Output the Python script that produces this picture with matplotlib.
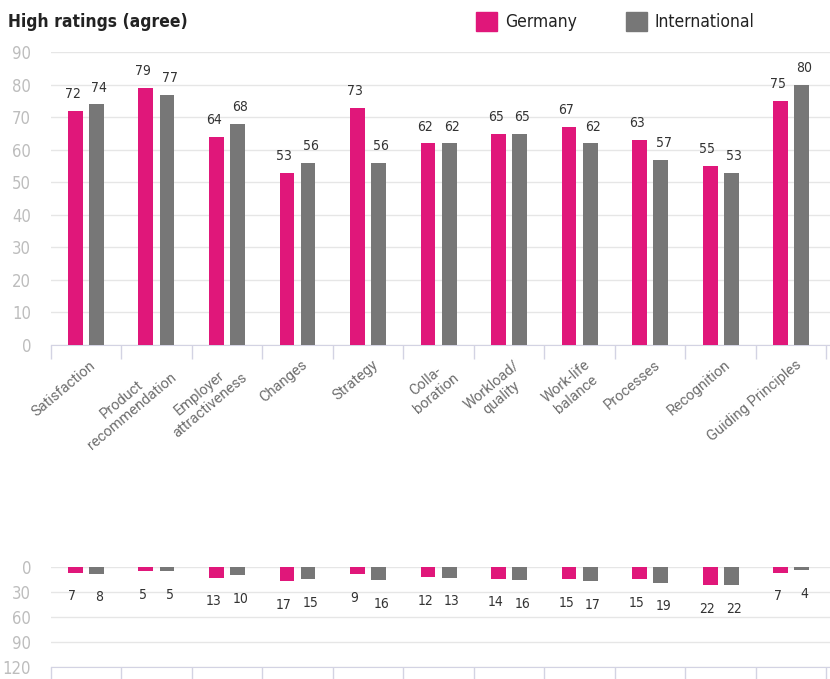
import matplotlib.pyplot as plt
import numpy as np

categories = ['Satisfaction', 'Product\nrecommendation', 'Employer\nattractiveness', 'Changes',
              'Strategy', 'Colla-\nboration', 'Workload/\nquality', 'Work-life\nbalance',
              'Processes', 'Recognition', 'Guiding Principles']
high_germany = [72, 79, 64, 53, 73, 62, 65, 67, 63, 55, 75]
high_intl = [74, 77, 68, 56, 56, 62, 65, 62, 57, 53, 80]
low_germany = [7, 5, 13, 17, 9, 12, 14, 15, 15, 22, 7]
low_intl = [8, 5, 10, 15, 16, 13, 16, 17, 19, 22, 4]

pink = '#E0177A'
gray = '#777777'
tick_gray = '#BDBDBD'
grid_gray = '#E6E6E6'
axis_col = '#D3D3E3'
num_font = ['DejaVu Sans']
num_kw = dict(family=num_font, stretch='condensed')

fig = plt.figure(figsize=(8.3, 6.79), dpi=100)
x = np.arange(len(categories))
w = 0.21
off = 0.15

# upper chart
ax = fig.add_axes([0.061, 0.492, 0.939, 0.431])
ax.bar(x - off, high_germany, w, color=pink, zorder=3)
ax.bar(x + off, high_intl, w, color=gray, zorder=3)
for i in range(len(x)):
    ax.text(x[i] - off - 0.04, high_germany[i] + 3, str(high_germany[i]), ha='center', va='bottom',
            fontsize=10, color='#333333', **num_kw)
    ax.text(x[i] + off + 0.04, high_intl[i] + 3, str(high_intl[i]), ha='center', va='bottom',
            fontsize=10, color='#333333', **num_kw)
ax.set_xlim(-0.5, len(x) - 0.45)
ax.set_ylim(0, 90)
ax.set_yticks(range(0, 91, 10))
ax.yaxis.grid(True, color=grid_gray, lw=1, zorder=0)
ax.set_xticks(np.arange(len(x) + 1) - 0.5)
ax.set_xticklabels([])
ax.tick_params(axis='x', length=10, color=axis_col, width=1)
ax.tick_params(axis='y', length=0, labelcolor=tick_gray, labelsize=12, pad=14)
for lab in ax.get_yticklabels():
    lab.set_family(num_font)
    lab.set_stretch('condensed')
for s in ['top', 'right', 'left']:
    ax.spines[s].set_visible(False)
ax.spines['bottom'].set_color(axis_col)
for i, c in enumerate(categories):
    ax.text(x[i] + 0.05, -4, c, rotation=40, ha='right', va='top', rotation_mode='anchor',
            fontsize=10.5, color='#6E6E6E', family=['Roboto', 'DejaVu Sans'],
            multialignment='center')

# lower chart
ax2 = fig.add_axes([0.061, 0.018, 0.939, 0.147])
ax2.bar(x - off, low_germany, w, color=pink, zorder=3)
ax2.bar(x + off, low_intl, w, color=gray, zorder=3)
for i in range(len(x)):
    ax2.text(x[i] - off - 0.04, low_germany[i] + 20, str(low_germany[i]), ha='center', va='top',
             fontsize=10, color='#333333', **num_kw)
    ax2.text(x[i] + off + 0.04, low_intl[i] + 20, str(low_intl[i]), ha='center', va='top',
             fontsize=10, color='#333333', **num_kw)
ax2.set_xlim(-0.5, len(x) - 0.45)
ax2.set_ylim(120, 0)
ax2.set_yticks(range(0, 121, 30))
ax2.yaxis.grid(True, color=grid_gray, lw=1, zorder=0)
ax2.set_xticks(np.arange(len(x) + 1) - 0.5)
ax2.set_xticklabels([])
ax2.tick_params(axis='x', length=10, color=axis_col, width=1)
ax2.tick_params(axis='y', length=0, labelcolor=tick_gray, labelsize=12, pad=14)
for lab in ax2.get_yticklabels():
    lab.set_family(num_font)
    lab.set_stretch('condensed')
for s in ['top', 'right', 'left']:
    ax2.spines[s].set_visible(False)
ax2.spines['bottom'].set_color(axis_col)

# title and legend
fig.text(0.01, 0.968, 'High ratings (agree)', fontsize=12.5, fontweight='bold', color='#222222',
         va='center', **num_kw)
fig.patches.append(plt.Rectangle((0.573, 0.955), 0.026, 0.027, color=pink, transform=fig.transFigure))
fig.text(0.608, 0.967, 'Germany', fontsize=12.5, color='#222222', va='center', **num_kw)
fig.patches.append(plt.Rectangle((0.754, 0.955), 0.026, 0.027, color=gray, transform=fig.transFigure))
fig.text(0.789, 0.967, 'International', fontsize=12.5, color='#222222', va='center', **num_kw)

fig.savefig('out.png', dpi=100)
